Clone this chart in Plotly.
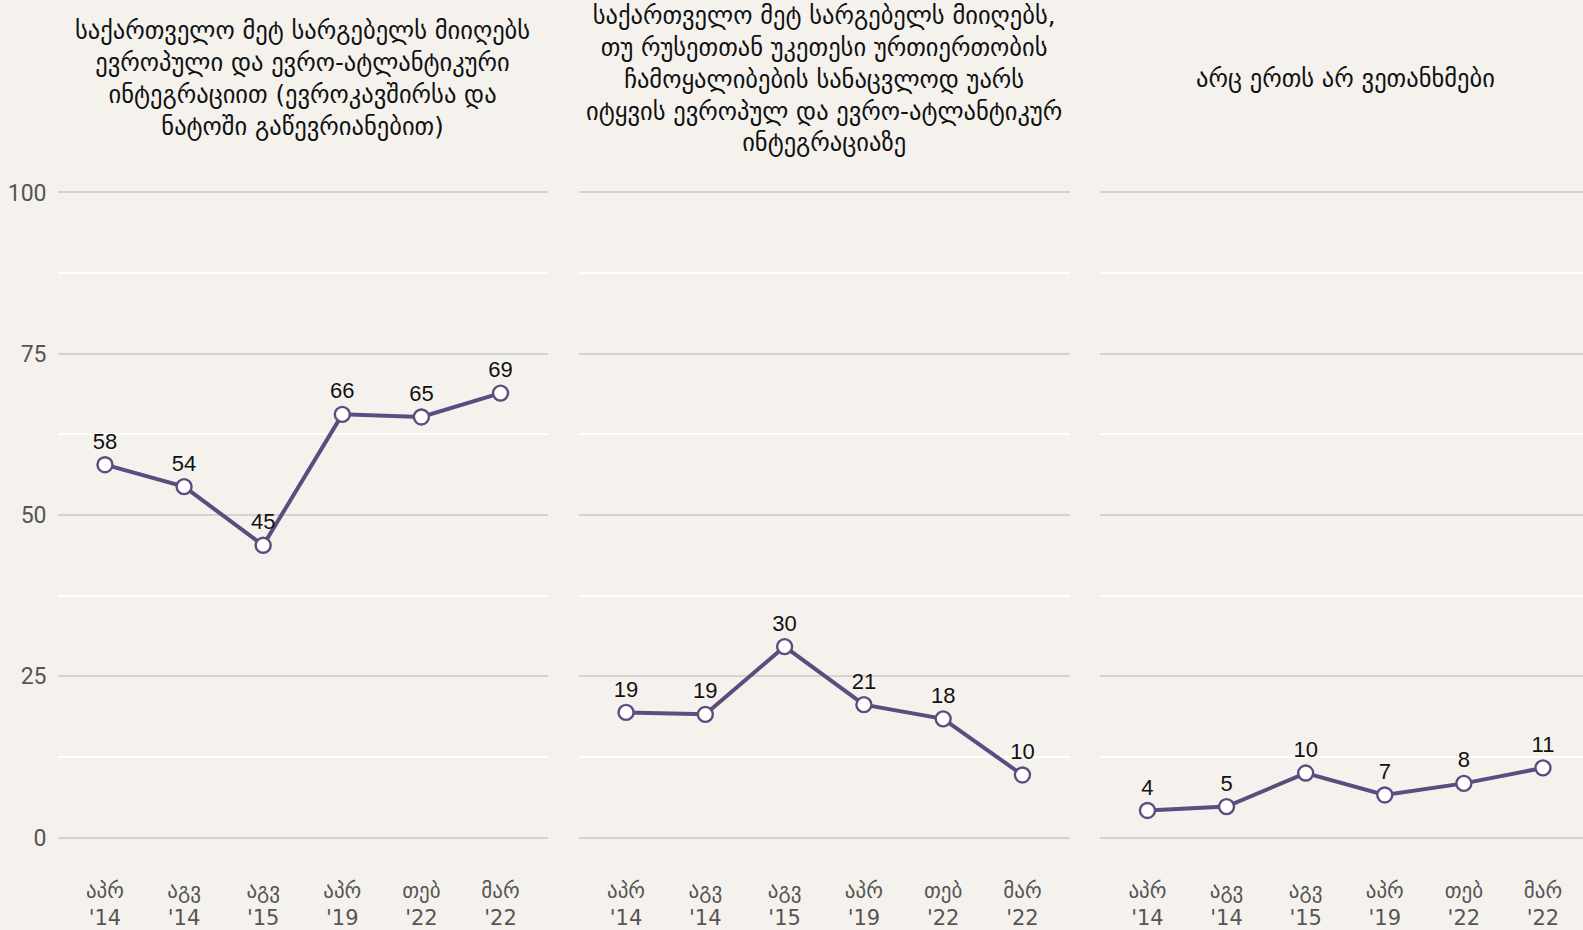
import plotly.graph_objects as go

categories = ["აპრ<br>'14", "აგვ<br>'14", "აგვ<br>'15", "აპრ<br>'19", "თებ<br>'22", "მარ<br>'22"]
titles = [
    "საქართველო მეტ სარგებელს მიიღებს<br>ევროპული და ევრო-ატლანტიკური<br>ინტეგრაციით (ევროკავშირსა და<br>ნატოში გაწევრიანებით)",
    "საქართველო მეტ სარგებელს მიიღებს,<br>თუ რუსეთთან უკეთესი ურთიერთობის<br>ჩამოყალიბების სანაცვლოდ უარს<br>იტყვის ევროპულ და ევრო-ატლანტიკურ<br>ინტეგრაციაზე",
    "არც ერთს არ ვეთანხმები",
]
series_eu = [57.8, 54.4, 45.3, 65.6, 65.2, 68.9]
series_russia = [19.4, 19.1, 29.6, 20.6, 18.4, 9.7]
series_neither = [4.2, 4.8, 10.0, 6.6, 8.4, 10.8]
y_ticks = [0, 25, 50, 75, 100]

BG = "#f5f2ee"
PURPLE = "#5f4b80"
W, H = 1583, 930
T, B = 185.5, 85.5

domains = [(57.5 / W, 548 / W), (578.5 / W, 1070 / W), (1100 / W, 1.0)]
xranges = [[-0.6, 5.6], [-0.6, 5.6], [-0.6, 5.506]]
title_cx = [(57.5 + 548) / 2 / W, (578.5 + 1070) / 2 / W, (1100 + 1591) / 2 / W]
all_series = [series_eu, series_russia, series_neither]

fig = go.Figure()
for i, vals in enumerate(all_series):
    suffix = "" if i == 0 else str(i + 1)
    fig.add_trace(go.Scatter(
        x=list(range(len(categories))), y=vals,
        xaxis="x" + suffix, yaxis="y" + suffix,
        mode="lines+markers+text",
        line=dict(color=PURPLE, width=4),
        marker=dict(size=15, color="white", line=dict(color=PURPLE, width=2.4)),
        texttemplate="%{y:.0f}", textposition="top center",
        textfont=dict(family="Liberation Sans, Arial", size=22, color="#111111"),
        cliponaxis=False, showlegend=False, hoverinfo="skip",
    ))
    fig.layout["xaxis" + suffix] = dict(
        domain=list(domains[i]), range=xranges[i],
        tickmode="array", tickvals=list(range(len(categories))), ticktext=categories,
        showgrid=False, zeroline=False, showline=False,
        ticks="", ticklabelstandoff=32, automargin=False,
        tickfont=dict(family="DejaVu Sans", size=21, color="#555555"),
        anchor="y" + suffix,
    )
    fig.layout["yaxis" + suffix] = dict(
        range=[-1, 101], tickvals=y_ticks,
        showgrid=True, gridcolor="#d6d3cf", gridwidth=1.5,
        minor=dict(dtick=12.5, tick0=0, showgrid=True, gridcolor="#ffffff", gridwidth=1.5),
        zeroline=False, showline=False, ticks="", automargin=False,
        showticklabels=(i == 0), ticklabelstandoff=10,
        tickfont=dict(family="Liberation Sans Narrow, Roboto, Arial", size=23, color="#555555"),
        anchor="x" + suffix,
    )
    fig.add_annotation(
        text=titles[i], xref="paper", yref="paper",
        x=title_cx[i], y=(H - B - 78) / (H - T - B),
        xanchor="center", yanchor="middle",
        showarrow=False, align="center",
        font=dict(family="DejaVu Sans", size=24.5, color="#111111"),
    )

fig.update_layout(
    width=W, height=H,
    margin=dict(l=0, r=0, t=T, b=B, autoexpand=False),
    paper_bgcolor=BG, plot_bgcolor=BG,
)

fig.write_html("out.html", config={"displayModeBar": False},
               post_script="document.body.style.margin='0';")
